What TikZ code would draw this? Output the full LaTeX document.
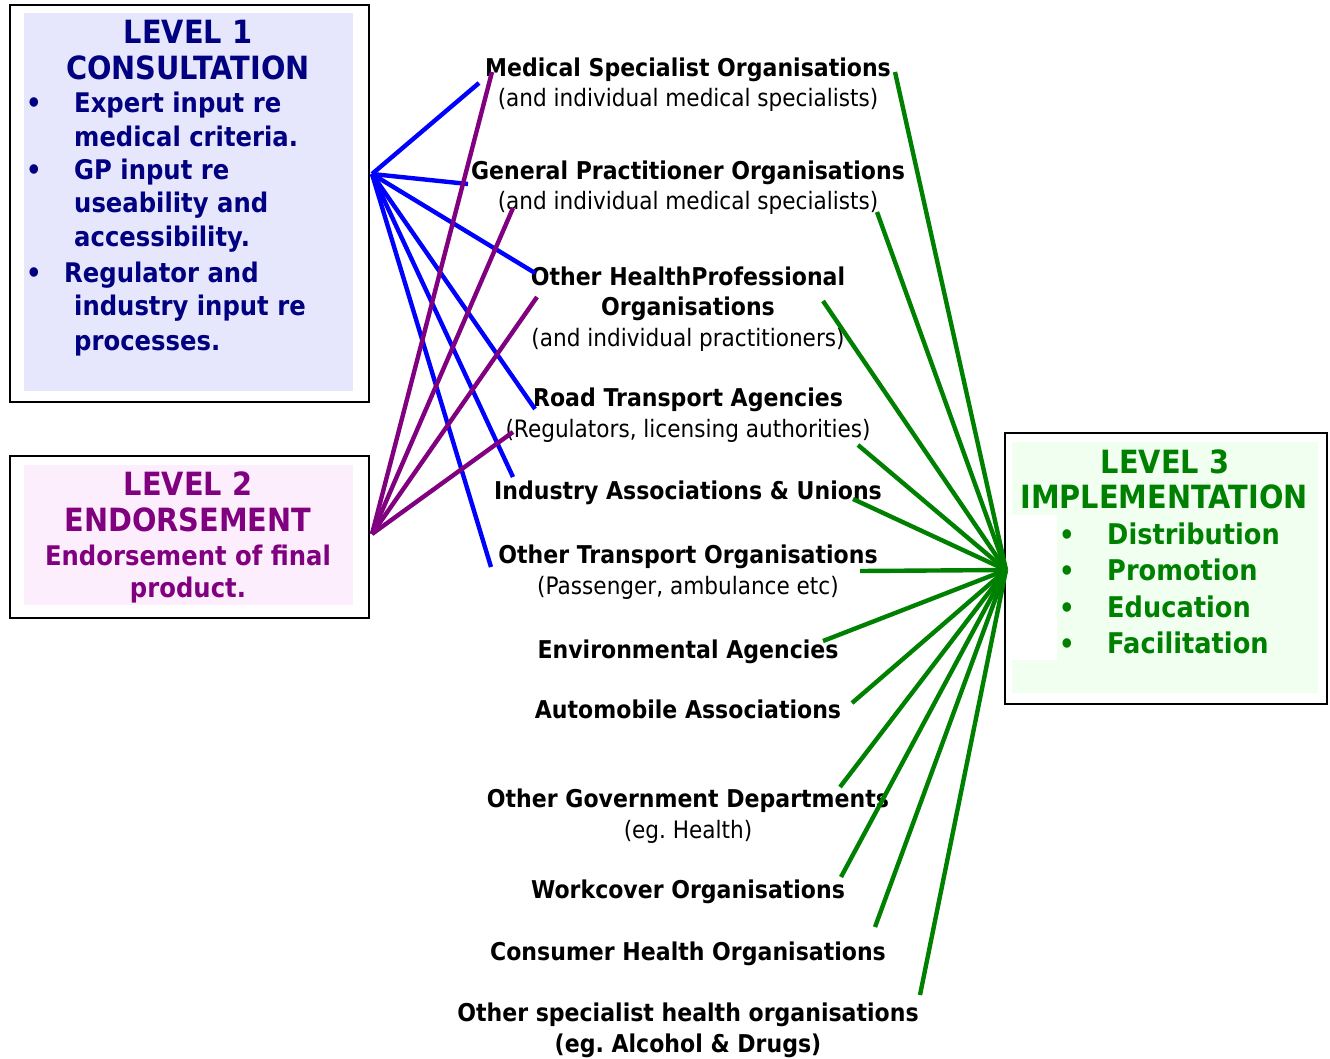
\documentclass[tikz,border=0pt]{standalone}
\usepackage{fontspec}
\setmainfont{DejaVu Sans}[FakeStretch=0.9]
\usetikzlibrary{calc}

\definecolor{consult}{HTML}{000080}
\definecolor{endorse}{HTML}{800080}
\definecolor{implement}{HTML}{008000}
\definecolor{consultbg}{RGB}{230,230,252}
\definecolor{endorsebg}{RGB}{253,238,253}
\definecolor{implementbg}{RGB}{240,255,240}

\newcommand{\orghead}[1]{{\fontsize{24.5}{30.5}\selectfont\bfseries #1}}

\begin{document}
\frenchspacing
\begin{tikzpicture}[x=1pt,y=-1pt,
    frame/.style={draw=black,line width=2pt,anchor=north west,inner sep=0pt},
    panel/.style={anchor=north west,inner sep=0pt},
    ttl/.style={anchor=base,inner sep=0pt,font=\bfseries\fontsize{32}{38}\selectfont},
    itm/.style={anchor=base west,inner sep=0pt,font=\bfseries\fontsize{27}{32}\selectfont},
    dot/.style={anchor=base,inner sep=0pt,font=\bfseries\fontsize{27}{32}\selectfont},
    org/.style={anchor=base,inner sep=0pt,align=center,font=\fontsize{24}{30.5}\selectfont},
    link/.style={line width=4.4pt}]
\useasboundingbox (0,0) rectangle (1330,1059);

% the three level boxes
\node[panel,fill=consultbg,minimum width=329pt,minimum height=378pt] (onebg) at (24,13) {};
\node[frame,minimum width=359pt,minimum height=397pt] (one) at (9,4) {};
\node[panel,fill=endorsebg,minimum width=329pt,minimum height=140pt] (twobg) at (24,465) {};
\node[frame,minimum width=359pt,minimum height=162pt] (two) at (9,455) {};
\node[panel,fill=implementbg,minimum width=306pt,minimum height=251pt] (threebg) at (1012,442) {};
\fill[white] (1012,515) rectangle (1057,660);
\node[frame,minimum width=322pt,minimum height=271pt] (three) at (1004,432) {};

% level 1
\node[ttl,text=consult] (one-a) at (188,44) {LEVEL 1};
\node[ttl,text=consult] (one-b) at (188,80) {CONSULTATION};
\foreach \txt/\x/\y [count=\i] in {Expert input re/74/113, medical criteria./74/147,
    GP input re/74/180, useability and/74/213, accessibility./74/247,
    Regulator and/64/283, industry input re/74/316, processes./74/350}
  \node[itm,text=consult] (one-\i) at (\x,\y) {\txt};
\foreach \y [count=\i] in {113,180,283}
  \node[dot,text=consult] (one-dot\i) at (34,\y) {\textbullet};

% level 2
\node[ttl,text=endorse] (two-a) at (188,495) {LEVEL 2};
\node[ttl,text=endorse] (two-b) at (188,531) {ENDORSEMENT};
\node[ttl,text=endorse,font=\bfseries\fontsize{27}{32}\selectfont] (two-c) at (188,565) {Endorsement of final};
\node[ttl,text=endorse,font=\bfseries\fontsize{27}{32}\selectfont] (two-d) at (188,597) {product.};

% level 3
\node[ttl,text=implement] (three-a) at (1165,473) {LEVEL 3};
\node[ttl,text=implement] (three-b) at (1164,508) {IMPLEMENTATION};
\foreach \txt/\y [count=\i] in {Distribution/544, Promotion/580, Education/617, Facilitation/653} {
  \node[itm,text=implement,font=\bfseries\fontsize{28.5}{34}\selectfont] (three-\i) at (1107,\y) {\txt};
  \node[dot,text=implement] (three-dot\i) at (1067,\y) {\textbullet};
}

% the organisations in the middle (placed by their last baseline)
\node[org] (medspec) at (688,107) {\orghead{Medical Specialist Organisations}\\(and individual medical specialists)};
\node[org] (gp) at (688,210) {\orghead{General Practitioner Organisations}\\(and individual medical specialists)};
\node[org] (health) at (688,346) {\orghead{Other HealthProfessional}\\\orghead{Organisations}\\(and individual practitioners)};
\node[org] (road) at (688,437) {\orghead{Road Transport Agencies}\\(Regulators, licensing authorities)};
\node[org] (industry) at (688,499) {\orghead{Industry Associations \& Unions}};
\node[org] (transport) at (688,594) {\orghead{Other Transport Organisations}\\(Passenger, ambulance etc)};
\node[org] (environ) at (688,658) {\orghead{Environmental Agencies}};
\node[org] (auto) at (688,718) {\orghead{Automobile Associations}};
\node[org] (govt) at (688,838) {\orghead{Other Government Departments}\\(eg. Health)};
\node[org] (workcover) at (688,898) {\orghead{Workcover Organisations}};
\node[org] (consumer) at (688,960) {\orghead{Consumer Health Organisations}};
\node[org] (special) at (688,1052) {\orghead{Other specialist health organisations}\\\orghead{(eg. Alcohol \& Drugs)}};

% hubs and line ends
\coordinate (hubA) at (372,174);
\coordinate (hubB) at (372,534);
\coordinate (hubC) at (1006,570);
\foreach \n/\x/\y in {a1/479/83, a2/468/184, a3/535/273, a4/535/409, a5/513/477, a6/491/567,
    b1/492/72, b2/513/208, b3/537/297, b4/513/432,
    c1/895/72, c2/877/212, c3/823/301, c4/858/445, c5/853/499, c6/860/571,
    c7/823/641, c8/852/703, c9/840/787, c10/841/877, c11/875/927, c12/920/995}
  \coordinate (\n) at (\x,\y);

\foreach \e in {a1,a2,a3,a4,a5,a6} \draw[link,blue] (hubA) -- (\e);
\foreach \e in {b1,b2,b3,b4} \draw[link,endorse] (hubB) -- (\e);
\foreach \e in {c1,c2,c3,c4,c5,c6,c7,c8,c9,c10,c11,c12} \draw[link,implement] (hubC) -- (\e);
\end{tikzpicture}
\end{document}
